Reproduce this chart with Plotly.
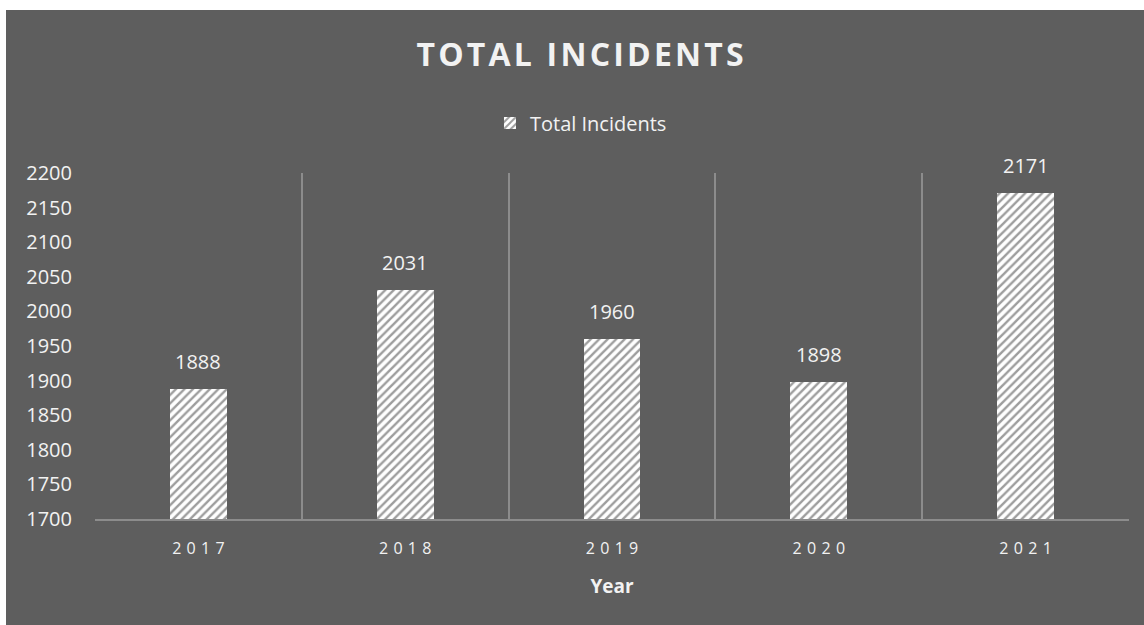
import plotly.graph_objects as go

years = ["2017", "2018", "2019", "2020", "2021"]
incidents = [1888, 2031, 1960, 1898, 2171]
y_ticks = [1700, 1750, 1800, 1850, 1900, 1950, 2000, 2050, 2100, 2150, 2200]
title_text = "TOTAL INCIDENTS"

BG = "#5e5e5e"
GRID = "#8c8c8c"
TXT = "#f2f2f2"
FONT = "Open Sans"

xpos = list(range(len(years)))
spaced = ["\u2009\u2009".join(list(y)) for y in years]
title_spaced = "\u200a".join(list(title_text))

fig = go.Figure()
fig.add_trace(go.Bar(
    x=xpos, y=incidents, name="Total Incidents", width=0.275,
    marker=dict(color="white", line=dict(width=0),
                pattern=dict(shape="/", bgcolor="white", fgcolor="#3c3c3c", size=6, solidity=0.4)),
    showlegend=True, hoverinfo="skip",
))

for xi, v in zip(xpos, incidents):
    fig.add_annotation(x=xi, y=v, text=str(v), showarrow=False, yanchor="bottom",
                       yshift=12, font=dict(family=FONT, size=20, color=TXT))

L, R, T, B = 95, 15, 173, 106
W, H = 1144, 625
pw, ph = W - L - R, H - T - B
# white page border strips (top and left)
fig.add_shape(type="rect", xref="paper", yref="paper", x0=-L / pw - 0.01, x1=(6 - L) / pw,
              y0=-B / ph, y1=T / ph + 1.01, fillcolor="white", line=dict(width=0), layer="above")
fig.add_shape(type="rect", xref="paper", yref="paper", x0=-L / pw - 0.01, x1=(W - L) / pw + 0.01,
              y0=1 + (T - 10) / ph, y1=T / ph + 1.01, fillcolor="white", line=dict(width=0), layer="above")

fig.update_layout(
    width=W, height=H,
    margin=dict(l=L, r=R, t=T, b=B),
    paper_bgcolor=BG, plot_bgcolor=BG,
    font=dict(family=FONT, color=TXT),
    title=dict(text="<b>" + title_spaced + "</b>", x=0.507, xanchor="center", y=1 - 55 / 625,
               yanchor="middle", yref="container", font=dict(size=32, color=TXT, family=FONT)),
    legend=dict(orientation="h", x=0.47, xanchor="center", y=1 + (173 - 123) / ph, yanchor="middle",
                font=dict(size=20, color=TXT), bgcolor="rgba(0,0,0,0)"),
    bargap=0.0,
    hovermode=False,
    xaxis=dict(
        range=[-0.5, 4.5], tickmode="array", tickvals=xpos, ticktext=spaced,
        showgrid=False, zeroline=False, showline=True, linecolor=GRID, linewidth=1.5,
        ticks="outside", ticklen=14, tickcolor=BG, tickfont=dict(size=16, color=TXT),
        minor=dict(tickmode="array", tickvals=[-0.5, 0.5, 1.5, 2.5, 3.5, 4.5],
                   showgrid=True, gridcolor=GRID, gridwidth=1.5, ticks=""),
        title=dict(text="<b>Year</b>", font=dict(size=19, color=TXT), standoff=22),
        fixedrange=True,
    ),
    yaxis=dict(
        range=[1700, 2200], tickmode="array", tickvals=y_ticks,
        showgrid=False, zeroline=False, showline=False,
        ticks="outside", ticklen=18, tickcolor=BG, tickfont=dict(size=20, color=TXT),
        fixedrange=True,
    ),
)

fig.write_html("out.html", config={"displayModeBar": False},
               post_script="document.body.style.margin='0';document.body.style.padding='0';document.body.style.overflow='hidden';document.body.style.background='#5e5e5e';")
